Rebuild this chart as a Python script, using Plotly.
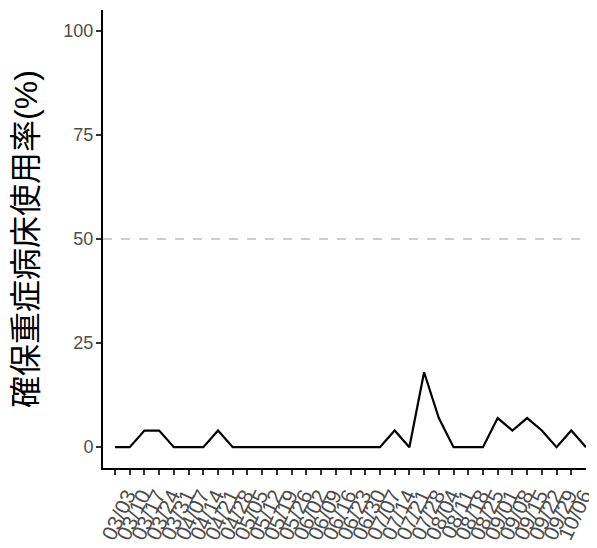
import plotly.graph_objects as go

dates = ["2020-03-03", "2020-03-10", "2020-03-17", "2020-03-24", "2020-03-31",
         "2020-04-07", "2020-04-14", "2020-04-21", "2020-04-28", "2020-05-05",
         "2020-05-12", "2020-05-19", "2020-05-26", "2020-06-02", "2020-06-09",
         "2020-06-16", "2020-06-23", "2020-06-30", "2020-07-07", "2020-07-14",
         "2020-07-21", "2020-07-28", "2020-08-04", "2020-08-11", "2020-08-18",
         "2020-08-25", "2020-09-01", "2020-09-08", "2020-09-15", "2020-09-22",
         "2020-09-29", "2020-10-06", "2020-10-13"]
usage = [0, 0, 4, 4, 0, 0, 0, 4, 0,
         0, 0, 0, 0, 0, 0, 0, 0, 0, 0,
         4, 0, 18, 7, 0, 0, 0, 7, 4, 7, 4, 0, 4, 0]
tick_dates = dates[:32]
tick_labels = ["03/03", "03/10", "03/17", "03/24", "03/31", "04/07", "04/14",
               "04/21", "04/28", "05/05", "05/12", "05/19", "05/26", "06/02",
               "06/09", "06/16", "06/23", "06/30", "07/07", "07/14", "07/21",
               "07/28", "08/04", "08/11", "08/18", "08/25", "09/01", "09/08",
               "09/15", "09/22", "09/29", "10/06"]
y_ticks = [0, 25, 50, 75, 100]
threshold = 50

font_fam = "Liberation Sans, Arial, Noto Sans CJK JP, sans-serif"

fig = go.Figure()
fig.add_trace(go.Scatter(x=dates, y=usage, mode="lines",
                         line=dict(color="black", width=2.2), showlegend=False))
fig.add_shape(type="line", xref="paper", x0=0, x1=1, yref="y", y0=threshold, y1=threshold,
              line=dict(color="#BEBEBE", width=1.5, dash="dash"), layer="below")

# page body has an 8px default margin, so the figure is sized to fit
fig.update_layout(
    width=589, height=540,
    margin=dict(l=95, r=11, t=2, b=80),
    paper_bgcolor="white", plot_bgcolor="white",
    font=dict(family=font_fam),
)
fig.update_xaxes(
    range=["2020-02-26 07:00", "2020-10-13"],
    tickvals=tick_dates, ticktext=tick_labels, tickangle=-65,
    tickfont=dict(size=21, color="#4D4D4D"),
    ticklabelshift=12,
    showline=True, linecolor="black", linewidth=2,
    ticks="outside", ticklen=5, tickwidth=1.5, tickcolor="#333333",
    showgrid=False, zeroline=False, automargin=False,
)
fig.update_yaxes(
    range=[-5, 105], tickvals=y_ticks,
    tickfont=dict(size=18, color="#4D4D4D"),
    ticklabelstandoff=-1,
    showline=True, linecolor="black", linewidth=2,
    ticks="outside", ticklen=5, tickwidth=1.5, tickcolor="#333333",
    showgrid=False, zeroline=False, automargin=False,
    title=dict(text="確保重症病床使用率(%)", font=dict(size=32, color="black"), standoff=20),
)
fig.write_html("out.html")
